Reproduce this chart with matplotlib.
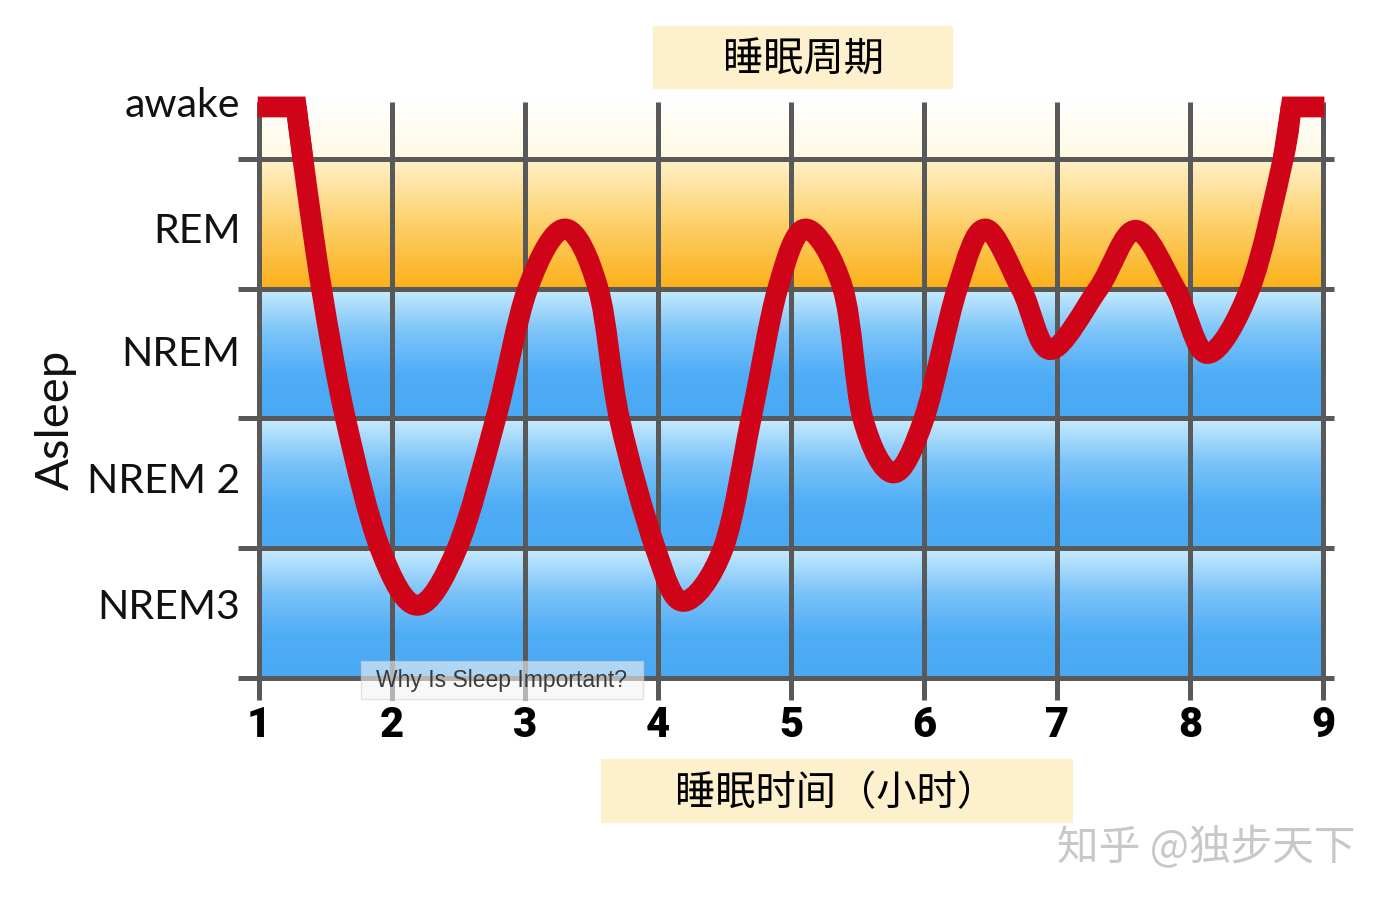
import numpy as np
import matplotlib.pyplot as plt
from matplotlib.colors import LinearSegmentedColormap
from matplotlib.patches import Rectangle, PathPatch
from matplotlib.path import Path

plt.rcParams['font.family'] = ['Lato', 'Noto Sans CJK SC', 'DejaVu Sans']

# points (turning points and grid crossings):
# hours slept, sleep depth (0 = bottom of NREM3, 4 = top of REM, 4.4 = awake)
hours = [0.99, 1.28, 1.33, 1.47, 1.65, 1.91, 2.19, 2.49, 2.78, 3.02, 3.30,
         3.55, 3.71, 3.98, 4.19, 4.49, 4.70, 4.90, 5.11, 5.39, 5.54, 5.77,
         6.00, 6.25, 6.46, 6.73, 6.95, 7.31, 7.59, 7.89, 8.13, 8.45, 8.70,
         8.76, 9.01]
depth = [4.40, 4.40, 4.00, 3.00, 2.00, 1.00, 0.56, 1.00, 2.00, 3.00, 3.46,
         3.00, 2.00, 1.00, 0.59, 1.00, 2.00, 3.00, 3.46, 3.00, 2.00, 1.58,
         2.00, 3.00, 3.46, 3.00, 2.53, 3.00, 3.45, 3.00, 2.50, 3.00, 4.00,
         4.40, 4.40]

stage_labels = ['awake', 'REM', 'NREM', 'NREM 2', 'NREM3']
stage_pos = [4.42, 3.45, 2.50, 1.52, 0.55]
hour_ticks = [1, 2, 3, 4, 5, 6, 7, 8, 9]
band_edges = [0, 1, 2, 3, 4]

fig = plt.figure(figsize=(13.9, 9.04), dpi=100)
ax = fig.add_axes([0.1672, 0.2058, 0.799, 0.7035])
ax.set_xlim(0.8, 9.15)
ax.set_ylim(-0.3, 4.6)
ax.axis('off')


def band(y0, y1, colors):
    cmap = LinearSegmentedColormap.from_list('b', colors)
    grad = np.linspace(0, 1, 256).reshape(-1, 1)
    ax.imshow(grad, cmap=cmap, extent=(1, 9, y1, y0), aspect='auto',
              origin='upper', zorder=0, interpolation='bilinear')


band(4, 4.45, ['#fffae2', '#ffffff'])
band(3, 4, ['#fbb01a', '#fdd06a', '#fff1c9'])
for lo in band_edges[:3]:
    band(lo, lo + 1, ['#4aa9f4', '#4fadf6', '#7cc4f9', '#c9ecfd'])

grid_c = '#595959'
for h in hour_ticks:
    ax.plot([h, h], [-0.17, 4.44], color=grid_c, lw=3.6, zorder=2,
            solid_capstyle='butt')
for e in band_edges:
    ax.plot([0.84, 9.08], [e, e], color=grid_c, lw=3.6, zorder=2,
            solid_capstyle='butt')

# smooth line through the read points (catmull-rom drawn as bezier path)
red = '#cf0419'
pts = np.column_stack([hours, depth])[1:-1]
verts = [pts[0]]
codes = [Path.MOVETO]
for i in range(len(pts) - 1):
    p0 = pts[max(i - 1, 0)]
    p1, p2 = pts[i], pts[i + 1]
    p3 = pts[min(i + 2, len(pts) - 1)]
    verts += [p1 + (p2 - p0) / 6, p2 - (p3 - p1) / 6, p2]
    codes += [Path.CURVE4] * 3
ax.add_patch(PathPatch(Path(verts, codes), fill=False, edgecolor=red, lw=15,
                       joinstyle='round', capstyle='butt', zorder=3))
# flat "awake" stretches with sharp corners
ax.plot(hours[:3], depth[:3], color=red, lw=15, zorder=3,
        solid_joinstyle='miter', solid_capstyle='butt')
ax.plot(hours[-3:], depth[-3:], color=red, lw=15, zorder=3,
        solid_joinstyle='miter', solid_capstyle='butt')

for h in hour_ticks:
    ax.text(h, -0.36, str(h), ha='center', va='center', fontsize=30,
            fontweight='heavy', family=['Roboto', 'DejaVu Sans'], color='black')

for lab, p in zip(stage_labels, stage_pos):
    ax.text(0.86, p, lab, ha='right', va='center', fontsize=29.5, color='#111111')

fig.text(56 / 1390, 1 - 420 / 904, 'Asleep', rotation=90, ha='center',
         va='center', fontsize=34, color='#111111')

# title boxes
fig.patches.append(Rectangle((653 / 1390, 1 - 89 / 904), 299 / 1390, 62 / 904,
                             transform=fig.transFigure, color='#fdf0cd', zorder=0))
fig.text(803 / 1390, 1 - 60 / 904, '睡眠周期', ha='center', va='center',
         fontsize=29, family=['Noto Sans CJK SC', 'DejaVu Sans'], color='black')
fig.patches.append(Rectangle((601 / 1390, 1 - 823 / 904), 471 / 1390, 63 / 904,
                             transform=fig.transFigure, color='#fdf0cd', zorder=0))
fig.text(836 / 1390, 1 - 794 / 904, '睡眠时间（小时）', ha='center', va='center',
         fontsize=29, family=['Noto Sans CJK SC', 'DejaVu Sans'], color='black')

# tooltip
fig.patches.append(Rectangle((361 / 1390, 1 - 700 / 904), 282 / 1390, 38 / 904,
                             transform=fig.transFigure, facecolor='#f4f4f4',
                             alpha=0.6, edgecolor='#d0d0d0', lw=1, zorder=5))
fig.text(501 / 1390, 1 - 681 / 904, 'Why Is Sleep Important?', ha='center',
         va='center', fontsize=16.5, family=['Liberation Sans', 'DejaVu Sans'],
         color='#3a3a3a', zorder=6)

fig.text(1206 / 1390, 1 - 848 / 904, '知乎 @独步天下', ha='center', va='center',
         fontsize=30, family=['Noto Sans CJK SC', 'DejaVu Sans'], color='#c8c8c8')

fig.savefig('out.png', dpi=100)
